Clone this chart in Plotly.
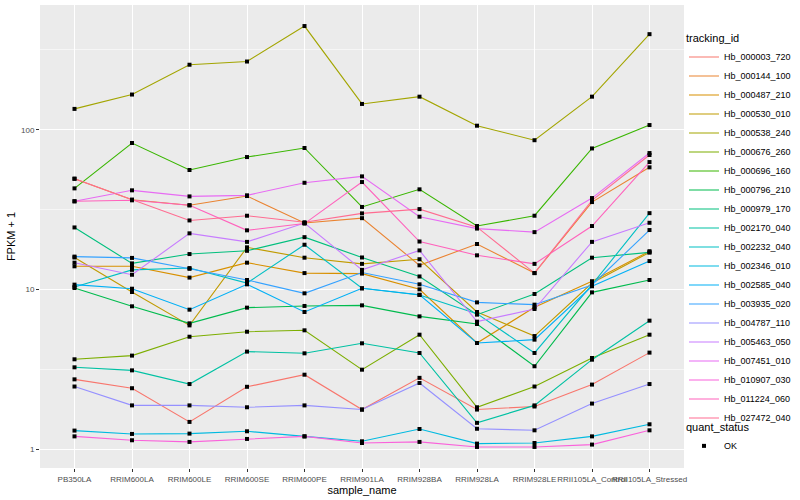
import plotly.graph_objects as go

samples = ["PB350LA", "RRIM600LA", "RRIM600LE", "RRIM600SE", "RRIM600PE", "RRIM901LA",
           "RRIM928BA", "RRIM928LA", "RRIM928LE", "RRII105LA_Control", "RRII105LA_Stressed"]

tracking_ids = ["Hb_000003_720", "Hb_000144_100", "Hb_000487_210", "Hb_000530_010", "Hb_000538_240",
                "Hb_000676_260", "Hb_000696_160", "Hb_000796_210", "Hb_000979_170", "Hb_002170_040",
                "Hb_002232_040", "Hb_002346_010", "Hb_002585_040", "Hb_003935_020", "Hb_004787_110",
                "Hb_005463_050", "Hb_007451_010", "Hb_010907_030", "Hb_011224_060", "Hb_027472_040"]

hb_000003_720 = [2.75, 2.42, 1.49, 2.47, 2.94, 1.78, 2.81, 1.78, 1.86, 2.55, 4.04]
hb_000144_100 = [49.4, 36.5, 33.7, 38.5, 26.1, 28.0, 14.2, 19.3, 12.7, 35.3, 58.2]
hb_000487_210 = [14.0, 14.0, 11.9, 14.75, 12.7, 12.6, 10.05, 4.64, 7.76, 11.3, 17.4]
hb_000530_010 = [15.9, 9.67, 5.98, 18.4, 15.85, 14.5, 15.5, 7.25, 5.13, 11.0, 17.1]
hb_000538_240 = [135, 166, 255, 267, 445, 145, 161, 106, 86, 161, 396]
hb_000676_260 = [3.67, 3.87, 5.08, 5.46, 5.57, 3.16, 5.23, 1.84, 2.48, 3.74, 5.23]
hb_000696_160 = [43.0, 82.6, 56.0, 67.5, 76.9, 32.9, 42.4, 25.0, 29.0, 76.4, 107]
hb_000796_210 = [10.24, 7.87, 6.16, 7.72, 7.91, 7.98, 6.81, 6.10, 3.32, 9.62, 11.5]
hb_000979_170 = [24.5, 14.6, 16.7, 17.5, 21.3, 15.9, 12.1, 6.98, 9.4, 15.85, 17.1]
hb_002170_040 = [3.27, 3.13, 2.57, 4.10, 4.0, 4.62, 4.02, 1.47, 1.89, 3.65, 6.4]
hb_002232_040 = [10.4, 13.3, 13.65, 11.0, 19.1, 10.2, 9.26, 7.08, 4.02, 10.75, 30.1]
hb_002346_010 = [1.315, 1.253, 1.259, 1.302, 1.21, 1.127, 1.346, 1.09, 1.10, 1.21, 1.44]
hb_002585_040 = [10.75, 10.14, 7.5, 10.8, 7.25, 10.2, 9.3, 4.64, 4.87, 10.5, 15.1]
hb_003935_020 = [16.1, 15.8, 13.5, 11.5, 9.49, 12.8, 10.8, 8.33, 8.06, 10.7, 23.6]
hb_004787_110 = [2.48, 1.89, 1.89, 1.84, 1.89, 1.78, 2.61, 1.35, 1.32, 1.94, 2.57]
hb_005463_050 = [14.75, 12.4, 22.5, 19.9, 26.1, 13.3, 17.6, 6.31, 7.57, 19.9, 26.2]
hb_007451_010 = [35.7, 41.8, 38.3, 38.9, 46.6, 51.1, 28.6, 24.1, 22.9, 37.4, 71.5]
hb_010907_030 = [1.21, 1.144, 1.117, 1.166, 1.21, 1.10, 1.117, 1.039, 1.039, 1.075, 1.32]
hb_011224_060 = [35.7, 36.2, 33.7, 23.5, 25.9, 47.1, 20.0, 16.4, 14.5, 25.0, 62.8]
hb_027472_040 = [49.4, 36.5, 27.1, 29.0, 26.4, 30.0, 31.9, 24.6, 12.7, 36.2, 69.5]

series_values = [hb_000003_720, hb_000144_100, hb_000487_210, hb_000530_010, hb_000538_240,
                 hb_000676_260, hb_000696_160, hb_000796_210, hb_000979_170, hb_002170_040,
                 hb_002232_040, hb_002346_010, hb_002585_040, hb_003935_020, hb_004787_110,
                 hb_005463_050, hb_007451_010, hb_010907_030, hb_011224_060, hb_027472_040]

quant_status = "OK"

palette = ["#F8766D", "#EA8331", "#D89000", "#C09B00", "#A3A500", "#7CAE00", "#39B600", "#00BB4E",
           "#00BF7D", "#00C1A3", "#00BFC4", "#00BAE0", "#00B0F6", "#35A2FF", "#9590FF", "#C77CFF",
           "#E76BF3", "#FA62DB", "#FF62BC", "#FF6C91"]

FONT = "Liberation Sans"
fig = go.Figure()

for name, vals, col in zip(tracking_ids, series_values, palette):
    fig.add_trace(go.Scatter(x=samples, y=vals, mode="lines", name=name,
                             line=dict(color=col, width=1.1), legend="legend"))

all_x, all_y = [], []
for vals in series_values:
    all_x += samples
    all_y += vals
fig.add_trace(go.Scatter(x=all_x, y=all_y, mode="markers", name=quant_status,
                         marker=dict(symbol="square", size=4, color="black"),
                         legend="legend2"))

fig.update_layout(
    width=800, height=500,
    margin=dict(l=40, r=116, t=5, b=32, autoexpand=False),
    plot_bgcolor="#EBEBEB", paper_bgcolor="white",
    font=dict(family=FONT, color="black"),
    legend=dict(title=dict(text="tracking_id", font=dict(size=11)),
                x=1.0, xanchor="left", y=0.95, yanchor="top", itemwidth=30,
                font=dict(size=9), tracegroupgap=0, bgcolor="rgba(0,0,0,0)"),
    legend2=dict(title=dict(text="quant_status", font=dict(size=11)),
                 x=1.0, xanchor="left", y=0.11, yanchor="top", itemwidth=30,
                 font=dict(size=9), bgcolor="rgba(0,0,0,0)"),
)

fig.update_xaxes(type="category", categoryorder="array", categoryarray=samples,
                 range=[-0.6, len(samples) - 0.4], showgrid=True, gridcolor="white", gridwidth=1,
                 zeroline=False, showline=False, ticks="outside", ticklen=3, tickcolor="#333333",
                 tickangle=0, tickfont=dict(size=8, color="#4D4D4D"),
                 title=dict(text="sample_name", font=dict(size=11), standoff=2))

fig.update_yaxes(type="log", range=[-0.115, 2.78], tickvals=[1, 10, 100], ticktext=["1", "10", "100"],
                 showgrid=True, gridcolor="white", gridwidth=1, zeroline=False, showline=False,
                 ticks="outside", ticklen=3, tickcolor="#333333",
                 tickfont=dict(size=8, color="#4D4D4D"),
                 minor=dict(tickvals=[10 ** 0.5, 10 ** 1.5, 10 ** 2.5], showgrid=True,
                            gridcolor="#F6F6F6", gridwidth=0.6, ticks=""),
                 title=dict(text="FPKM + 1", font=dict(size=11), standoff=3))

fig.write_html("out.html", config={"displayModeBar": False},
               post_script="document.body.style.margin='0px';")
